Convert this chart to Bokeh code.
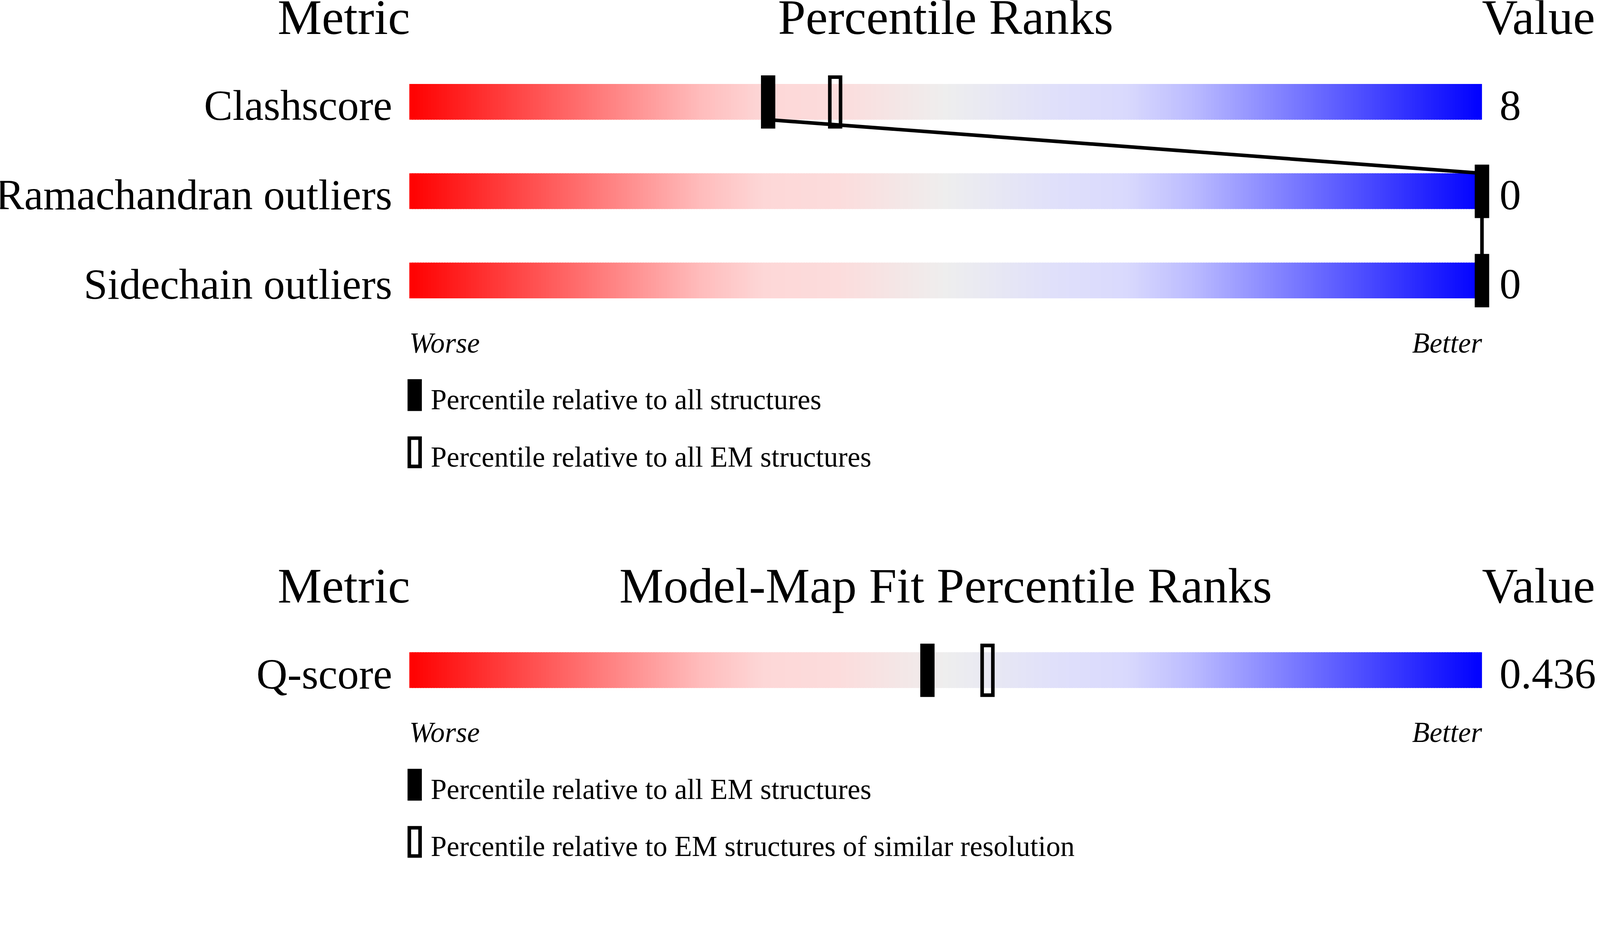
import numpy as np
from bokeh.plotting import figure
from bokeh.models import Range1d
from bokeh.core.properties import value
from bokeh.embed import file_html
from bokeh.resources import INLINE

# ---------------- data ----------------
metrics_geo = ["Clashscore", "Ramachandran outliers", "Sidechain outliers"]
values_geo = ["8", "0", "0"]
pct_all_geo = [33.45, 100, 100]      # percentile relative to all structures
pct_em_geo = [39.7, 100, 100]        # percentile relative to all EM structures
legend_geo = ["Percentile relative to all structures",
              "Percentile relative to all EM structures"]
title_geo = "Percentile Ranks"

metrics_fit = ["Q-score"]
values_fit = ["0.436"]
pct_em_fit = [48.3]                  # relative to all EM structures
pct_res_fit = [53.9]                 # relative to EM structures of similar resolution
legend_fit = ["Percentile relative to all EM structures",
              "Percentile relative to EM structures of similar resolution"]
title_fit = "Model-Map Fit Percentile Ranks"

# gradient stops (percentile -> colour)
grad_pos = [0, 27, 33, 40, 50, 60, 67, 73, 100]
grad_r = [255, 255, 253, 252, 238, 224, 217, 187, 0]
grad_g = [0, 187, 215, 220, 238, 224, 217, 187, 0]
grad_b = [0, 187, 215, 220, 238, 250, 253, 255, 255]

# ---------------- layout ----------------
S = 1.0925                 # screenshot pixels per CSS pixel
W, H = 4086, 2200          # CSS pixels
PX0, PXU = 1153.0, 30.0    # target pixel of percentile 0, pixels per unit
YSHIFT = 7                 # target pixels
FONT = "Liberation Serif"
BASE_FIX = 0.33            # em shift for the text baseline

p = figure(width=W, height=H,
           x_range=Range1d((8 * S - PX0) / PXU, ((8 + W) * S - PX0) / PXU),
           y_range=Range1d((8 + H) * S - YSHIFT, 8 * S - YSHIFT),
           output_backend="svg", toolbar_location=None, min_border=0,
           x_axis_location=None, y_axis_location=None)
p.xgrid.visible = False
p.ygrid.visible = False
p.outline_line_color = None
p.background_fill_color = "white"
p.border_fill_color = "white"


def u(px):
    return px / PXU


def txt(x, y, s, size, align="left", style="normal"):
    p.text(x=[x], y=[y - BASE_FIX * size], text=[s], text_font=value(FONT),
           text_font_size=value(f"{size / S:.1f}px"), text_align=align,
           text_baseline="alphabetic", text_font_style=style,
           text_color="black")


N = 400
seg_l = np.linspace(0, 100, N + 1)[:-1]
seg_r = seg_l + 100.0 / N
seg_r_draw = np.minimum(seg_r + 0.12, 100)
mid = (seg_l + seg_r) / 2
cols = ["#%02x%02x%02x" % (int(round(r)), int(round(g)), int(round(b)))
        for r, g, b in zip(np.interp(mid, grad_pos, grad_r),
                           np.interp(mid, grad_pos, grad_g),
                           np.interp(mid, grad_pos, grad_b))]
LW = 10 / S


def panel(top0, title, metrics, values, pct_a, pct_b, legends):
    BAR_H, STEP = 100, 250
    tops = [top0 + i * STEP for i in range(len(metrics))]
    # titles
    tb = top0 - 140
    txt(u(2), tb, "Metric", 139, "right")
    txt(50, tb, title, 139, "center")
    txt(100, tb, "Value", 139, "left")
    # gradient bars
    L, R, T, B, C = [], [], [], [], []
    for t in tops:
        L += list(seg_l); R += list(seg_r_draw)
        T += [t] * N; B += [t + BAR_H] * N; C += cols
    p.quad(left=L, right=R, top=T, bottom=B, fill_color=C, line_color=None)
    # labels and values
    for t, m, v in zip(tops, metrics, values):
        txt(u(-48), t + BAR_H, m, 120, "right")
        txt(u(3049), t + BAR_H, v, 120, "left")
    # connecting lines between black markers
    if len(tops) > 1:
        p.segment(x0=pct_a[:-1], y0=[t + BAR_H for t in tops[:-1]],
                  x1=pct_a[1:], y1=tops[1:], line_color="black",
                  line_width=LW, line_cap="butt")
    # open markers
    p.quad(left=[x - u(15) for x in pct_b], right=[x + u(15) for x in pct_b],
           top=[t - 19 for t in tops], bottom=[t + BAR_H + 20 for t in tops],
           fill_color=None, line_color="black", line_width=LW,
           line_join="miter")
    # filled markers
    p.quad(left=[x - u(20) for x in pct_a], right=[x + u(20) for x in pct_a],
           top=[t - 24 for t in tops], bottom=[t + BAR_H + 25 for t in tops],
           fill_color="black", line_color=None)
    # worse / better
    wb = tops[-1] + BAR_H + 151
    txt(0, wb, "Worse", 80, "left", "italic")
    txt(100, wb, "Better", 80, "right", "italic")
    # legend
    lx = u(15)
    p.quad(left=[lx - u(20)], right=[lx + u(20)], top=[wb + 75],
           bottom=[wb + 164], fill_color="black", line_color=None)
    txt(u(60), wb + 159, legends[0], 80, "left")
    p.quad(left=[lx - u(15)], right=[lx + u(15)], top=[wb + 240],
           bottom=[wb + 319], fill_color=None, line_color="black",
           line_width=LW, line_join="miter")
    txt(u(60), wb + 319, legends[1], 80, "left")


panel(236, title_geo, metrics_geo, values_geo, pct_all_geo, pct_em_geo, legend_geo)
panel(1826, title_fit, metrics_fit, values_fit, pct_em_fit, pct_res_fit, legend_fit)

open("out.html", "w").write(file_html(p, INLINE))
